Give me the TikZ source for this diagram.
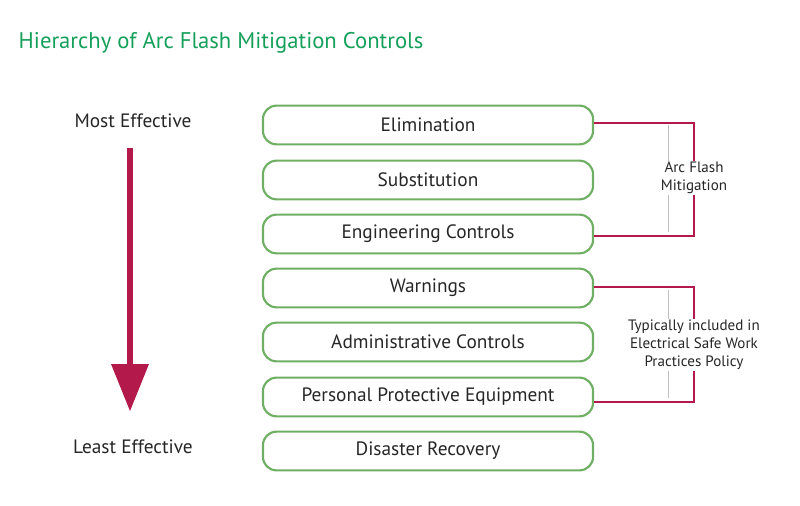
\documentclass[tikz,border=0pt]{standalone}
\usepackage{fontspec}
\setmainfont{PT Sans}
\definecolor{tgreen}{RGB}{20,160,90}
\definecolor{bgreen}{RGB}{110,175,100}
\definecolor{crim}{RGB}{180,25,75}
\begin{document}
\begin{tikzpicture}[x=0.75pt,y=-0.75pt,
  lvl/.style={draw=bgreen,line width=1.6pt,rounded corners=10pt,minimum width=247.5pt,minimum height=29pt,inner sep=0pt,font=\fontsize{14.5}{16}\selectfont,text=black!85},
  brk/.style={draw=crim,line width=1.5pt},
  side/.style={font=\fontsize{14.5}{16}\selectfont,text=black!85},
  note/.style={font=\fontsize{11.3}{13.5}\selectfont,align=center,fill=white,inner sep=1pt,text=black!85}]
\useasboundingbox (0,0) rectangle (800,506);
\node[anchor=west,text=tgreen,font=\fontsize{17}{20}\selectfont] (title) at (14,43) {Hierarchy of Arc Flash Mitigation Controls};
\node[lvl] (e1) at (428,125) {Elimination};
\node[lvl] (e2) at (428,180) {Substitution};
\node[lvl] (e3) at (428,234) {Engineering Controls};
\node[lvl] (e4) at (428,288) {Warnings};
\node[lvl] (e5) at (428,342) {Administrative Controls};
\node[lvl] (e6) at (428,397) {Personal Protective Equipment};
\node[lvl] (e7) at (428,451) {Disaster Recovery};
\node[side] (most) at (133,121) {Most Effective};
\node[side] (least) at (133,447) {Least Effective};
\coordinate (a1) at (130,148);
\coordinate (a2) at (130,366);
\draw[crim,line width=4pt] (a1) -- (a2);
\fill[crim] (111,364) -- (149,364) -- (130,411) -- cycle;
\coordinate (g1) at (668,125); \coordinate (g2) at (668,232);
\coordinate (g3) at (668,290); \coordinate (g4) at (668,398);
\draw[black!25,line width=0.5pt] (g1) -- (g2) (g3) -- (g4);
\draw[brk] (e1.east|-0,123) -- (694,123) -- (694,236) -- (e3.east|-0,236);
\draw[brk] (e4.east|-0,287) -- (694,287) -- (694,402) -- (e6.east|-0,402);
\node[note] (n1) at (694,178) {Arc Flash\\Mitigation};
\node[note] (n2) at (694,345) {Typically included in\\Electrical Safe Work\\Practices Policy};
\end{tikzpicture}
\end{document}
